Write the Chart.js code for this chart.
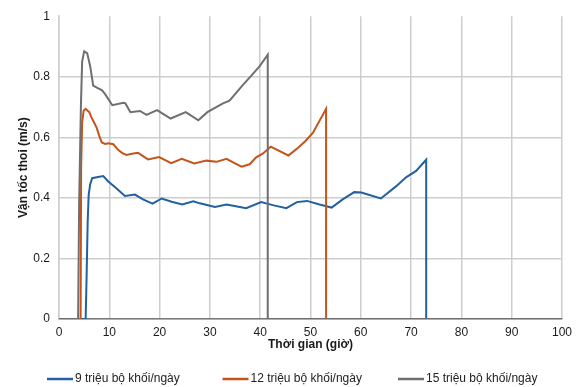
<!DOCTYPE html>
<html>
<head>
<meta charset="utf-8">
<script src="https://cdn.jsdelivr.net/npm/chart.js@4/dist/chart.umd.min.js"></script>
<style>
  html, body { margin: 0; padding: 0; background: #fff; }
</style>
</head>
<body>
<canvas id="speedChart" width="578" height="387"></canvas>
<script>
// Thời gian (giờ) / vận tốc thoi (m/s) cho từng mức sản lượng
const seriesNames = ['9 triệu bộ khối/ngày', '12 triệu bộ khối/ngày', '15 triệu bộ khối/ngày'];
const seriesColors = ['#22609f', '#c5541b', '#6f6f6f'];

const hours9 = [0, 5.3, 5.5, 5.7, 5.9, 6.2, 6.6, 7.5, 8.8, 9.8, 11.4, 13.1, 15.1, 16.7, 18.6, 20.4, 22.4, 24.5, 26.7, 28.0, 31.0, 33.3, 34.9, 37.2, 40.2, 42.5, 45.2, 47.3, 49.3, 51.8, 54.2, 56.4, 58.7, 60.1, 64.0, 67.0, 69.0, 71.0, 73.0, 73.0, 100];
const speed9 = [0, 0, 0.15, 0.32, 0.41, 0.445, 0.465, 0.468, 0.472, 0.454, 0.432, 0.406, 0.411, 0.395, 0.381, 0.398, 0.387, 0.378, 0.389, 0.382, 0.370, 0.378, 0.373, 0.366, 0.386, 0.376, 0.366, 0.386, 0.390, 0.378, 0.368, 0.395, 0.419, 0.418, 0.398, 0.438, 0.468, 0.489, 0.526, 0, 0];

const hours12 = [0, 4.3, 4.4, 4.6, 4.9, 5.3, 5.7, 6.0, 6.5, 7.0, 7.5, 8.0, 8.5, 9.2, 9.8, 10.8, 11.8, 12.6, 13.4, 14.5, 15.7, 16.7, 17.7, 19.9, 22.3, 24.4, 26.9, 29.3, 31.3, 33.3, 34.9, 36.3, 37.9, 39.2, 40.5, 42.1, 45.6, 47.2, 49.0, 50.5, 53.1, 53.1, 100];
const speed12 = [0, 0, 0.5, 0.65, 0.688, 0.694, 0.688, 0.684, 0.664, 0.648, 0.631, 0.605, 0.583, 0.578, 0.580, 0.577, 0.558, 0.548, 0.542, 0.546, 0.549, 0.538, 0.527, 0.535, 0.515, 0.529, 0.514, 0.523, 0.519, 0.529, 0.515, 0.503, 0.511, 0.534, 0.546, 0.569, 0.540, 0.561, 0.588, 0.615, 0.694, 0, 0];

const hours15 = [0, 3.8, 4.0, 4.35, 4.6, 5.0, 5.6, 6.2, 6.8, 7.8, 8.5, 9.1, 10.6, 12.8, 13.2, 14.2, 16.1, 17.4, 19.5, 22.2, 25.2, 27.7, 29.5, 32.6, 33.9, 36.4, 38.2, 39.9, 41.5, 41.5, 100];
const speed15 = [0, 0, 0.38, 0.70, 0.85, 0.884, 0.878, 0.835, 0.771, 0.762, 0.756, 0.744, 0.706, 0.714, 0.712, 0.683, 0.687, 0.674, 0.690, 0.662, 0.683, 0.656, 0.683, 0.712, 0.721, 0.770, 0.803, 0.835, 0.873, 0, 0];

const FONT = '"Liberation Sans", Arial, sans-serif';

const toPoints = (xs, ys) => xs.map((x, i) => ({ x, y: ys[i] }));

const seriesData = [
  toPoints(hours9, speed9),
  toPoints(hours12, speed12),
  toPoints(hours15, speed15)
];

// legend drawn as short lines under the x title, fixed pitch like the original sheet
const lineLegend = {
  id: 'lineLegend',
  afterDraw(chart) {
    const ctx = chart.ctx;
    const y = 379;
    ctx.save();
    ctx.font = '12px ' + FONT;
    ctx.textBaseline = 'middle';
    chart.data.datasets.forEach((ds, i) => {
      const x0 = 47 + i * 175.5;
      ctx.strokeStyle = ds.borderColor;
      ctx.lineWidth = 2.5;
      ctx.beginPath();
      ctx.moveTo(x0, y);
      ctx.lineTo(x0 + 26, y);
      ctx.stroke();
      ctx.fillStyle = '#222';
      ctx.fillText(ds.label, x0 + 28, y);
    });
    ctx.restore();
  }
};

new Chart(document.getElementById('speedChart').getContext('2d'), {
  type: 'line',
  data: {
    datasets: seriesNames.map((name, i) => ({
      label: name,
      data: seriesData[i],
      borderColor: seriesColors[i],
      backgroundColor: seriesColors[i],
      borderWidth: 2,
      pointRadius: 0,
      tension: 0,
      fill: false,
      // later series sit on top
      order: seriesNames.length - 1 - i
    }))
  },
  options: {
    responsive: false,
    animation: false,
    layout: { padding: { left: 10, right: 15, top: 9, bottom: 32 } },
    plugins: {
      legend: { display: false },
      tooltip: { enabled: false }
    },
    scales: {
      x: {
        type: 'linear',
        min: 0,
        max: 100,
        ticks: { stepSize: 10, padding: 6, color: '#1a1a1a', font: { family: FONT, size: 12 } },
        grid: { color: '#cdcdcd', lineWidth: 1.5, drawTicks: false },
        border: { color: '#7a7a7a', width: 1.5 },
        title: {
          display: true,
          text: 'Thời gian (giờ)',
          color: '#1a1a1a',
          font: { family: FONT, size: 12, weight: 'bold' },
          padding: { top: 2, bottom: 3 }
        },
        afterFit(scale) { scale.height = 36; }
      },
      y: {
        min: 0,
        max: 1,
        ticks: {
          stepSize: 0.2,
          padding: 9,
          color: '#1a1a1a',
          font: { family: FONT, size: 12 },
          callback: (v) => String(Number(v.toFixed(1)))
        },
        grid: {
          color: (c) => (c.tick && c.tick.value === 1 ? 'rgba(0,0,0,0)' : '#cdcdcd'),
          lineWidth: 1.5,
          drawTicks: false
        },
        border: { color: '#cdcdcd', width: 1.5 },
        title: {
          display: true,
          text: 'Vận tốc thoi (m/s)',
          color: '#1a1a1a',
          font: { family: FONT, size: 12, weight: 'bold' },
          padding: { top: 6, bottom: 2 }
        },
        afterFit(scale) { scale.width = 49; }
      }
    }
  },
  plugins: [lineLegend]
});
</script>
</body>
</html>
